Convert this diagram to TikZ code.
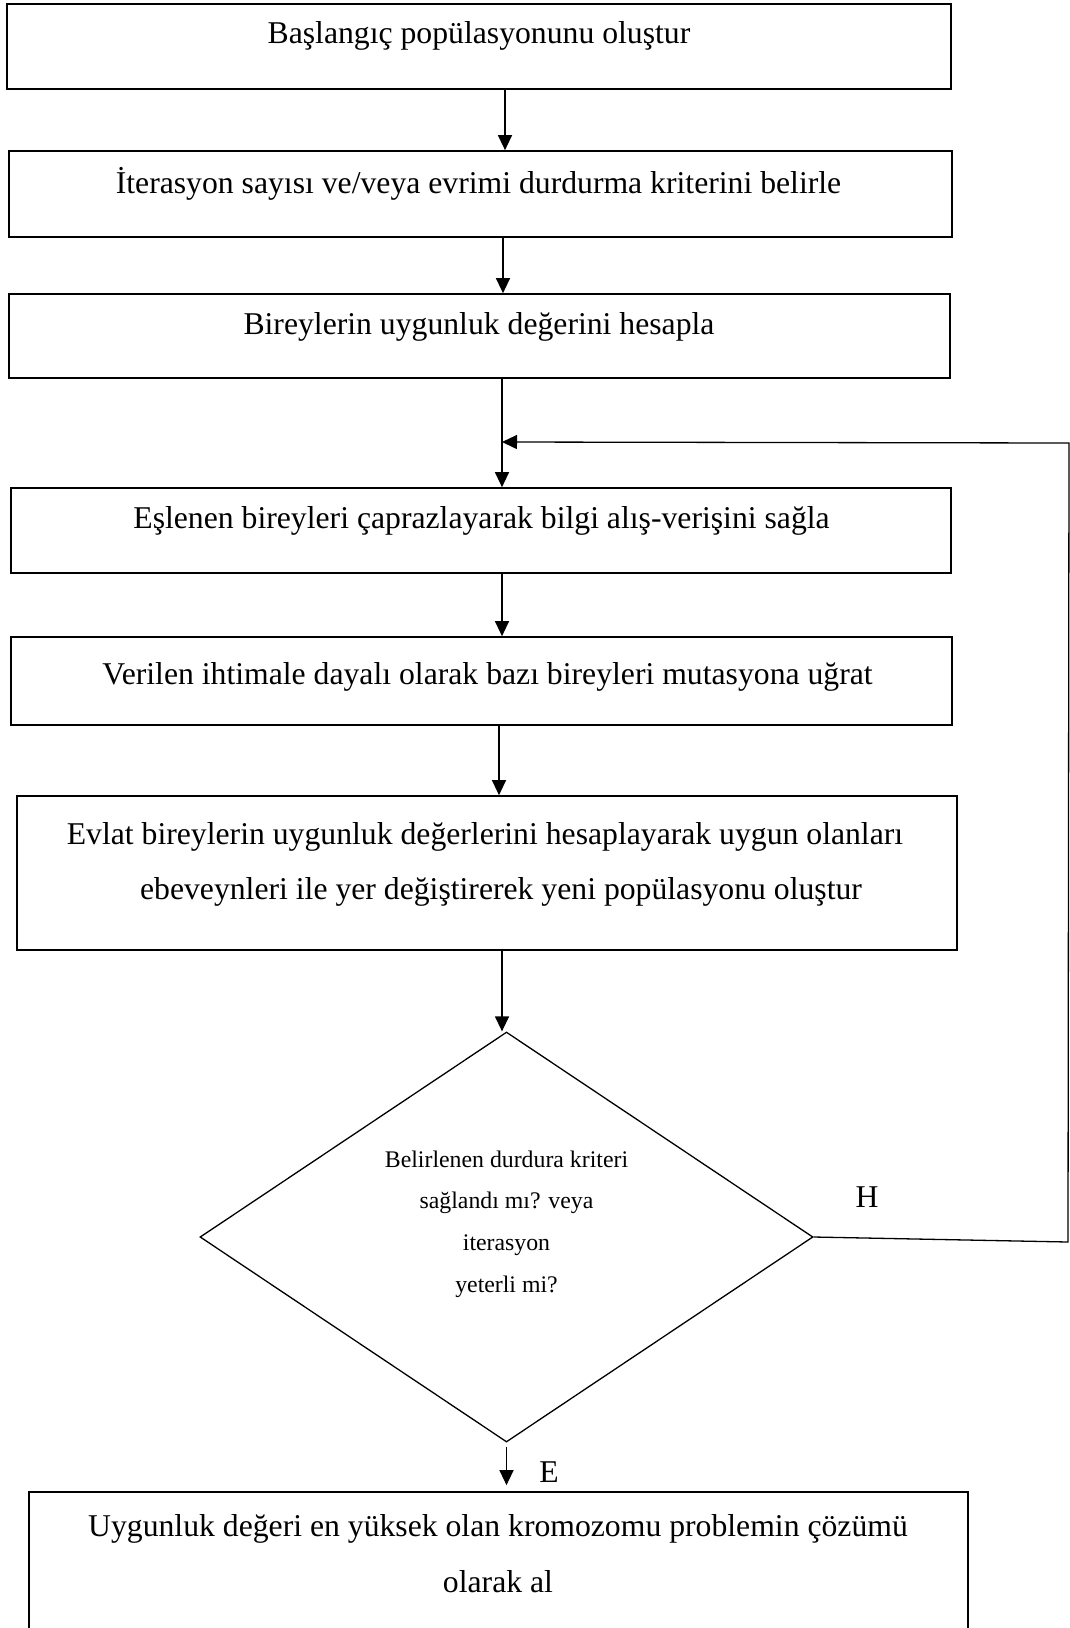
\documentclass[tikz,border=0pt]{standalone}
\usepackage{fontspec}
\setmainfont{Liberation Serif}
\usetikzlibrary{shapes.geometric,arrows.meta}
\begin{document}
\begin{tikzpicture}[x=1pt,y=-1pt,
  box/.style={draw, line width=1.7pt, inner sep=0pt},
  lbl/.style={font=\fontsize{31.7}{55}\selectfont, inner sep=0pt, align=center},
  qlbl/.style={font=\fontsize{23.8}{41.67}\selectfont, inner sep=0pt, align=center},
  conn/.style={line width=1.3pt},
  arr/.style={conn, -{Triangle[length=15pt,width=14pt]}}]
\useasboundingbox (0,0) rectangle (1070,1628);
% boxes
\node[box, minimum width=944pt, minimum height=85pt] (b1) at (479,46.5) {};
\node[box, minimum width=943pt, minimum height=86pt] (b2) at (480.5,194) {};
\node[box, minimum width=941pt, minimum height=84pt] (b3) at (479.5,336) {};
\node[box, minimum width=940pt, minimum height=85pt] (b4) at (481,530.5) {};
\node[box, minimum width=941pt, minimum height=88pt] (b5) at (481.5,681) {};
\node[box, minimum width=940pt, minimum height=154pt] (b6) at (487,873) {};
\node[box, minimum width=939pt, minimum height=168pt] (b7) at (498.5,1576) {};
\node[draw, conn, shape=diamond, inner sep=0pt, minimum width=613pt, minimum height=410pt] (d) at (506.5,1237) {};
% texts
\node[lbl, anchor=base] (t1) at (479,43) {Başlangıç popülasyonunu oluştur};
\node[lbl, anchor=base] (t2) at (478.5,193) {İterasyon sayısı ve/veya evrimi durdurma kriterini belirle};
\node[lbl, anchor=base] (t3) at (479,334) {Bireylerin uygunluk değerini hesapla};
\node[lbl, anchor=base] (t4) at (481.5,528) {Eşlenen bireyleri çaprazlayarak bilgi alış-verişini sağla};
\node[lbl, anchor=base] (t5) at (487.5,684) {Verilen ihtimale dayalı olarak bazı bireyleri mutasyona uğrat};
\node[lbl] (t6) at (493,864.1) {\hspace*{-16pt}Evlat bireylerin uygunluk değerlerini hesaplayarak uygun olanları\\\hspace*{16pt}ebeveynleri ile yer değiştirerek yeni popülasyonu oluştur};
\node[lbl, font=\fontsize{31.7}{56}\selectfont] (t7) at (498,1553.3) {Uygunluk değeri en yüksek olan kromozomu problemin çözümü\\olarak al};
\node[qlbl] (q) at (506.5,1224) {Belirlenen durdura kriteri\\sağlandı mı? veya\\iterasyon\\yeterli mi?};
\node[lbl] (h) at (867,1197) {H};
\node[lbl] (e) at (549,1472) {E};
% connectors
\draw[arr] ([xshift=26pt]b1.south) -- ([xshift=26pt]b1.south |- b2.north);
\draw[arr] ([xshift=22.5pt]b2.south) -- ([xshift=22.5pt]b2.south |- b3.north);
\draw[arr] ([xshift=22.5pt]b3.south) -- ([xshift=22.5pt]b3.south |- b4.north);
\draw[arr] ([xshift=21pt]b4.south) -- ([xshift=21pt]b4.south |- b5.north);
\draw[arr] ([xshift=17.5pt]b5.south) -- ([xshift=17.5pt]b5.south |- b6.north);
\draw[arr] ([xshift=15pt]b6.south) -- ([xshift=15pt]b6.south |- d.north);
\draw[arr] ([yshift=-4pt]d.south) -- ([yshift=6pt]d.south |- b7.north);
% feedback loop
\coordinate (c1) at (1068,1242);
\coordinate (c2) at (1069,443);
\coordinate (j) at (502,442);
\draw[arr] (d.east) -- (c1) -- (c2) -- (j);
\end{tikzpicture}
\end{document}
